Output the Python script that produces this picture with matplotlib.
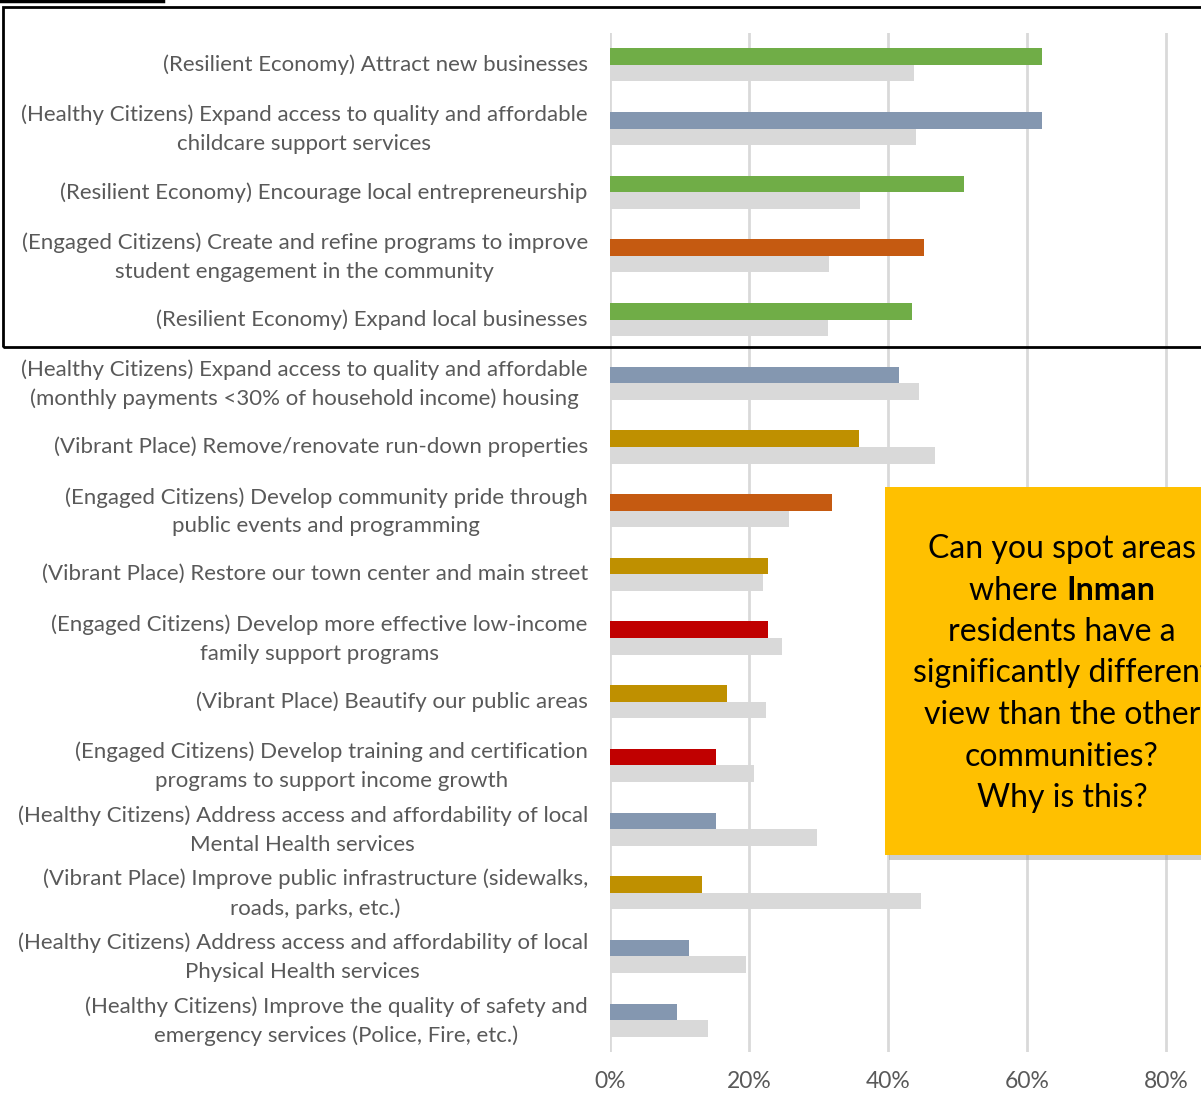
import numpy as np
import matplotlib.pyplot as plt
from matplotlib.patches import Rectangle
from matplotlib.lines import Line2D

plt.rcParams['font.family'] = ['Lato', 'DejaVu Sans']

categories = [
    '(Resilient Economy) Attract new businesses',
    '(Healthy Citizens) Expand access to quality and affordable\nchildcare support services',
    '(Resilient Economy) Encourage local entrepreneurship',
    '(Engaged Citizens) Create and refine programs to improve\nstudent engagement in the community',
    '(Resilient Economy) Expand local businesses',
    '(Healthy Citizens) Expand access to quality and affordable\n(monthly payments <30% of household income) housing',
    '(Vibrant Place) Remove/renovate run-down properties',
    '(Engaged Citizens) Develop community pride through\npublic events and programming',
    '(Vibrant Place) Restore our town center and main street',
    '(Engaged Citizens) Develop more effective low-income\nfamily support programs',
    '(Vibrant Place) Beautify our public areas',
    '(Engaged Citizens) Develop training and certification\nprograms to support income growth',
    '(Healthy Citizens) Address access and affordability of local\nMental Health services',
    '(Vibrant Place) Improve public infrastructure (sidewalks,\nroads, parks, etc.)',
    '(Healthy Citizens) Address access and affordability of local\nPhysical Health services',
    '(Healthy Citizens) Improve the quality of safety and\nemergency services (Police, Fire, etc.)',
]
inman = [62.2, 62.2, 51.0, 45.2, 43.4, 41.6, 35.8, 32.0, 22.7, 22.7, 16.9, 15.2, 15.2, 13.3, 11.3, 9.6]
other = [43.8, 44.0, 36.0, 31.5, 31.4, 44.4, 46.8, 25.8, 22.0, 24.7, 22.4, 20.7, 29.8, 44.8, 19.6, 14.1]
bar_colors = ['#70AD47', '#8497B0', '#70AD47', '#C55A11', '#70AD47', '#8497B0', '#BF9000', '#C55A11',
              '#BF9000', '#C00000', '#BF9000', '#C00000', '#8497B0', '#BF9000', '#8497B0', '#8497B0']
xticks = [0, 20, 40, 60, 80]
xtick_labels = ['0%', '20%', '40%', '60%', '80%']

W, H = 1201, 1097
fig = plt.figure(figsize=(W / 100, H / 100), dpi=100)
# plot area: x 610 -> ~1305 px (0-100%), y 33 -> 1052 px
ax = fig.add_axes([610 / W, 1 - 1052 / H, 695 / W, 1019 / H])

y = np.arange(len(categories))
h = 0.26
ax.barh(y - h / 2, inman, height=h, color=bar_colors, zorder=3)
ax.barh(y + h / 2, other, height=h, color='#D9D9D9', zorder=3)

ax.set_xlim(0, 100)
ax.set_ylim(len(categories) - 0.5, -0.5)
ax.set_xticks(xticks)
ax.set_xticklabels(xtick_labels, fontsize=16.5, color='#595959')
ax.set_yticks(y)
ax.set_yticklabels([])
ax.tick_params(axis='y', length=0)
ax.tick_params(axis='x', length=0, pad=14)
ax.grid(axis='x', color='#D9D9D9', linewidth=2, zorder=0)
for s in ax.spines.values():
    s.set_visible(False)

# category labels, drawn by hand so the two-line ones sit centred like Excel's
for yi, lab in zip(y, categories):
    dy = -0.7 if '\n' in lab else 0
    ax.annotate(lab, xy=(0, yi), xycoords=('axes fraction', 'data'),
                xytext=(-16, dy), textcoords='offset points',
                ha='right', va='center', multialignment='center', linespacing=1.55,
                fontsize=16, color='#595959')

# black frame around top five items
fig.patches.append(Rectangle((3 / W, 1 - 347 / H), 1.2, (347 - 7) / H, transform=fig.transFigure,
                             fill=False, edgecolor='black', linewidth=2, zorder=10))
fig.lines.append(Line2D([0, 163 / W], [1 - 1 / H, 1 - 1 / H], transform=fig.transFigure,
                        color='black', linewidth=2.5))

# yellow callout box
fig.patches.append(Rectangle((889 / W, 1 - 860 / H), 0.5, (855 - 487) / H, transform=fig.transFigure,
                             facecolor='#A0A0A0', edgecolor='none', alpha=0.5, zorder=11))
fig.patches.append(Rectangle((885 / W, 1 - 855 / H), 0.5, (855 - 487) / H, transform=fig.transFigure,
                             facecolor='#FFC000', edgecolor='none', zorder=12))
lines = ['Can you spot areas', None, 'residents have a', 'significantly different',
         'view than the other', 'communities?', 'Why is this?']
cx = 1062
fs = 23
renderer = fig.canvas.get_renderer()
for i, ln in enumerate(lines):
    yy = 1 - (549 + i * 41.5) / H
    if ln is None:
        t1 = fig.text(0, yy, 'where ', va='center', fontsize=fs, zorder=13)
        t2 = fig.text(0, yy, 'Inman', va='center', fontsize=fs, fontweight='bold', zorder=13)
        w1 = t1.get_window_extent(renderer).width
        w2 = t2.get_window_extent(renderer).width
        x0 = cx - (w1 + w2) / 2
        t1.set_x(x0 / W)
        t2.set_x((x0 + w1) / W)
    else:
        fig.text(cx / W, yy, ln, ha='center', va='center', fontsize=fs, zorder=13)

plt.savefig('out.png', dpi=100)
